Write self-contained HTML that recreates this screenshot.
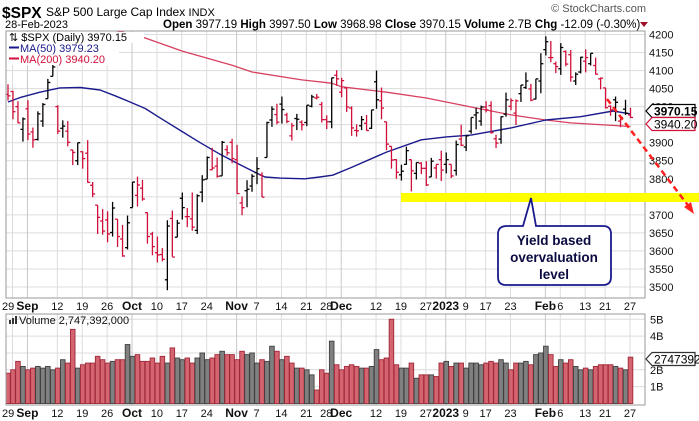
<!DOCTYPE html>
<html><head><meta charset="utf-8">
<style>
html,body{margin:0;padding:0;background:#fff;}
svg{display:block;font-family:"Liberation Sans",sans-serif;}
</style></head>
<body>
<svg id="chart" width="699" height="421" viewBox="0 0 699 421" xmlns="http://www.w3.org/2000/svg">
<defs>
<clipPath id="mainClip"><rect x="6" y="31" width="639" height="267"/></clipPath>
<clipPath id="volClip"><rect x="6" y="314" width="639" height="91"/></clipPath>
</defs>
<rect x="0" y="0" width="699" height="421" fill="#fff"/>
<g id="header">
<text x="2" y="18" font-size="15.5" font-weight="bold">$SPX</text>
<text x="46" y="16" font-size="12">S&amp;P 500 Large Cap Index <tspan font-size="11">INDX</tspan></text>
<text x="5" y="28" font-size="11">28-Feb-2023</text>
<text x="163" y="28" font-size="11.5"><tspan font-weight="bold">Open</tspan> 3977.19  <tspan font-weight="bold">High</tspan> 3997.50  <tspan font-weight="bold">Low</tspan> 3968.98  <tspan font-weight="bold">Close</tspan> 3970.15  <tspan font-weight="bold">Volume</tspan> 2.7B  <tspan font-weight="bold">Chg</tspan> -12.09 (-0.30%)</text>
<polygon points="640,22 648,22 644,27" fill="#a0102a"/>
<text x="646" y="12" font-size="11" fill="#555" text-anchor="end">© StockCharts.com</text>
</g>
<g id="grid"></g>
<g id="mas" clip-path="url(#mainClip)"></g>
<g id="bars" clip-path="url(#mainClip)"></g>
<g id="vol" clip-path="url(#volClip)"></g>
<g id="axes"></g>
<g id="legend">
<rect x="7" y="32" width="137" height="11" fill="#fff"/>
<rect x="7" y="43" width="112" height="22" fill="#fff"/>
<text x="9" y="41" font-size="11">⇅ $SPX (Daily) 3970.15</text>
<line x1="9" y1="47.5" x2="19" y2="47.5" stroke="#1a1a8c" stroke-width="2"/>
<text x="20" y="52" font-size="11" fill="#1a1a8c">MA(50) 3979.23</text>
<line x1="9" y1="58.5" x2="19" y2="58.5" stroke="#d0103a" stroke-width="2"/>
<text x="20" y="63" font-size="11" fill="#d0103a">MA(200) 3940.20</text>
</g>
<g id="annot">
<rect x="401" y="193" width="298" height="9" fill="#ffff00"/>
<line x1="607" y1="99" x2="690" y2="208" stroke="#ff2020" stroke-width="2.5" stroke-dasharray="6,4"/>
<polygon points="694,214 684,207 691,202" fill="#ff2020"/>
<path d="M507,226 L523,226 L531,198 L536,226 L603,226 Q611,226 611,234 L611,277 Q611,285 603,285 L506,285 Q498,285 498,277 L498,234 Q498,226 507,226 Z" fill="#fff" stroke="#1a1a8c" stroke-width="1.8"/>
<text font-size="13.5" font-weight="bold" fill="#0a0a40" text-anchor="middle"><tspan x="554" y="245">Yield based</tspan><tspan x="554" y="262">overvaluation</tspan><tspan x="554" y="279">level</tspan></text>
</g>
<g id="labels"></g>
</svg>
<script>
const dates=["Aug 29","Aug 30","Aug 31","Sep 1","Sep 2","Sep 6","Sep 7","Sep 8","Sep 9","Sep 12","Sep 13","Sep 14","Sep 15","Sep 16","Sep 19","Sep 20","Sep 21","Sep 22","Sep 23","Sep 26","Sep 27","Sep 28","Sep 29","Sep 30","Oct 3","Oct 4","Oct 5","Oct 6","Oct 7","Oct 10","Oct 11","Oct 12","Oct 13","Oct 14","Oct 17","Oct 18","Oct 19","Oct 20","Oct 21","Oct 24","Oct 25","Oct 26","Oct 27","Oct 28","Oct 31","Nov 1","Nov 2","Nov 3","Nov 4","Nov 7","Nov 8","Nov 9","Nov 10","Nov 11","Nov 14","Nov 15","Nov 16","Nov 17","Nov 18","Nov 21","Nov 22","Nov 23","Nov 25","Nov 28","Nov 29","Nov 30","Dec 1","Dec 2","Dec 5","Dec 6","Dec 7","Dec 8","Dec 9","Dec 12","Dec 13","Dec 14","Dec 15","Dec 16","Dec 19","Dec 20","Dec 21","Dec 22","Dec 23","Dec 27","Dec 28","Dec 29","Dec 30","Jan 3","Jan 4","Jan 5","Jan 6","Jan 9","Jan 10","Jan 11","Jan 12","Jan 13","Jan 17","Jan 18","Jan 19","Jan 20","Jan 23","Jan 24","Jan 25","Jan 26","Jan 27","Jan 30","Jan 31","Feb 1","Feb 2","Feb 3","Feb 6","Feb 7","Feb 8","Feb 9","Feb 10","Feb 13","Feb 14","Feb 15","Feb 16","Feb 17","Feb 21","Feb 22","Feb 23","Feb 24","Feb 27","Feb 28"];
const opens=[4034,4042,4000,3937,3994,3930,3909,3960,4022,4084,4000,3940,3932,3880,3850,3875,3871,3782,3727,3683,3686,3651,3688,3633,3609,3720,3754,3774,3706,3647,3595,3590,3520,3690,3638,3746,3695,3689,3657,3763,3799,3825,3835,3808,3881,3901,3853,3733,3767,3780,3817,3810,3859,3963,3978,4007,3977,3919,3967,3957,3956,4001,4024,4006,3964,3958,4087,4040,4052,3996,3934,3947,3954,3940,4069,4016,3958,3890,3853,3811,3840,3853,3815,3843,3829,3805,3830,3853,3840,3840,3823,3910,3888,3932,3977,3960,3999,4003,3911,3910,3979,4001,3982,4036,4053,4049,4021,4071,4158,4136,4119,4105,4153,4144,4071,4096,4126,4119,4114,4077,4052,4001,4019,3960,3993,3977];
const highs=[4062,4044,4015,3970,4018,3942,3987,4010,4077,4119,4004,3962,3960,3880,3900,3876,3907,3791,3727,3716,3710,3736,3688,3672,3698,3791,3806,3797,3707,3653,3640,3608,3685,3712,3686,3762,3719,3762,3757,3810,3862,3886,3859,3905,3893,3911,3894,3751,3796,3813,3860,3818,3958,4001,4008,4028,3983,3955,3980,3962,4004,4033,4035,4013,3976,4080,4101,4080,4052,4001,3951,3974,3977,3991,4100,4053,3958,3890,3854,3839,3889,3853,3845,3846,3849,3858,3840,3878,3873,3840,3906,3950,3920,3970,3997,4003,4015,4015,3922,3973,4039,4023,4020,4060,4095,4063,4077,4148,4195,4182,4125,4176,4156,4157,4095,4138,4159,4148,4136,4081,4052,4004,4028,3972,4019,3997];
const lows=[4017,3965,3954,3903,3907,3886,3906,3944,4022,4084,3924,3914,3890,3838,3838,3828,3789,3749,3647,3645,3624,3640,3611,3584,3604,3720,3723,3739,3620,3588,3568,3571,3491,3584,3638,3687,3666,3656,3647,3735,3799,3824,3803,3808,3864,3843,3759,3699,3721,3764,3785,3749,3859,3944,3951,3953,3954,3906,3935,3934,3946,3998,4020,3956,3938,3940,4058,4026,3985,3919,3917,3935,3933,3938,3994,3965,3879,3828,3800,3795,3839,3765,3798,3813,3780,3805,3801,3794,3815,3802,3809,3890,3877,3925,3937,3947,3984,3925,3885,3897,3972,3990,3949,4013,4049,4015,4020,4037,4142,4123,4093,4088,4112,4069,4060,4092,4095,4114,4089,4048,3995,3975,3960,3943,3977,3968];
const closes=[4030,3986,3955,3966,3924,3908,3980,4006,4067,4110,3932,3946,3901,3873,3900,3856,3790,3758,3693,3655,3647,3719,3640,3586,3678,3791,3783,3744,3640,3612,3589,3577,3669,3583,3677,3720,3695,3666,3753,3797,3859,3830,3807,3901,3872,3856,3759,3720,3771,3807,3828,3749,3956,3993,3957,3992,3959,3947,3965,3950,4004,4027,4026,3964,3958,4080,4077,4072,3999,3941,3933,3964,3934,3991,4019,3996,3896,3852,3818,3821,3878,3822,3845,3829,3783,3849,3840,3824,3853,3808,3895,3893,3919,3970,3983,3999,3991,3928,3899,3972,4019,4017,4016,4060,4071,4018,4077,4119,4180,4136,4111,4164,4118,4082,4090,4137,4136,4148,4090,4079,3997,3991,4012,3970,3982,3970];
const volumes=[1.8,2.0,2.5,2.2,2.0,2.1,2.2,2.1,2.2,2.0,2.1,2.6,2.4,4.4,2.1,2.3,2.4,2.4,2.8,2.6,2.4,2.5,2.6,2.6,3.5,2.8,2.9,2.5,2.5,2.7,2.4,2.8,2.4,3.3,2.7,2.6,2.7,2.4,2.7,3.0,2.6,2.7,2.9,3.1,2.9,2.9,2.6,3.1,2.9,3.0,2.4,2.6,2.5,3.4,3.1,2.6,2.8,2.4,2.1,2.1,2.0,1.7,0.8,2.0,1.8,3.7,2.3,2.0,2.2,2.3,2.2,2.1,2.1,2.2,3.2,2.6,2.7,5.0,2.3,2.1,2.1,2.4,1.5,1.7,1.7,1.7,1.6,2.4,2.5,2.2,2.4,2.4,2.1,2.4,2.4,2.3,2.4,2.5,2.4,2.6,2.4,2.0,2.4,2.4,2.5,2.3,2.9,3.0,3.4,2.9,2.2,2.6,2.4,2.6,2.2,2.0,2.1,2.0,2.2,2.3,2.3,2.3,2.2,2.1,2.0,2.75];
const ma50Days=[0,2.4,6.4,10.4,14.5,18.5,21.5,24.5,27.5,30.5,34.5,38.6,42.6,46.6,49.6,51.6,54.6,59.6,62.6,65.2,68.7,76,83,88,93,101,108,115,121.5,125];
const ma50Vals=[4013,4025,4040,4052,4053,4046,4030,4013,3995,3969,3935,3900,3868,3839,3818,3805,3802,3800,3805,3810,3830,3874,3908,3916,3921,3941,3963,3972,3988,3980];
const ma200Days=[0,20,26,35,45,49,59,65,67,76,84,93,101,108,113,125];
const ma200Vals=[4290,4215,4198,4154,4115,4096,4074,4065,4055,4040,4024,3999,3977,3963,3955,3945];
const priceTicks=[4200,4150,4100,4050,4000,3950,3900,3850,3800,3750,3700,3650,3600,3550,3500];
const volTicks=[1,2,3,4,5];
const volTickLabels=["1B","2B","","4B","5B"];
const dateLabelIdx=[0,3,9,14,19,24,29,34,39,45,49,54,59,63,66,73,78,83,87,91,95,100,107,110,115,119,124];
const dateLabelText=["29","Sep","12","19","26","Oct","10","17","24","Nov","7","14","21","28","Dec","12","19","27","2023","9","17","23","Feb","6","13","21","27"];
const dateLabelBold=[0,1,0,0,0,1,0,0,0,1,0,0,0,0,1,0,0,0,1,0,0,0,1,0,0,0,0];

const NS="http://www.w3.org/2000/svg";
const L=6,R=645,MT=31,MB=298,VT=314,VB=405;
const xAt=i=>8+i*4.98;
const yP=p=>34.5+(4200-p)*0.3607;
const yV=v=>403.5-v*16.85;
function mk(tag,attrs,parent){const e=document.createElementNS(NS,tag);for(const k in attrs)e.setAttribute(k,attrs[k]);parent.appendChild(e);return e;}
const grid=document.getElementById('grid'),axes=document.getElementById('axes'),bars=document.getElementById('bars'),vol=document.getElementById('vol'),mas=document.getElementById('mas'),labels=document.getElementById('labels');

priceTicks.forEach(p=>{const l=mk('line',{x1:L,x2:R,y1:yP(p),y2:yP(p),stroke:'#dcdcdc','stroke-width':1},grid);


const t=mk('text',{x:649,y:yP(p)+4,'font-size':11,fill:'#111'},axes);t.textContent=p;

});
volTicks.forEach((v,k)=>{const l=mk('line',{x1:L,x2:R,y1:yV(v),y2:yV(v),stroke:'#dcdcdc','stroke-width':1},grid);


if(volTickLabels[k]){const t=mk('text',{x:650,y:yV(v)+4,'font-size':11,fill:'#111'},axes);t.textContent=volTickLabels[k];

}});
dateLabelIdx.forEach((idx,k)=>{const gx=xAt(idx)+4.5;
[[MT,MB],[VT,VB]].forEach(([a,b])=>{const l=mk('line',{x1:gx,x2:gx,y1:a,y2:b,stroke:dateLabelBold[k]?'#c8c8c8':'#dcdcdc','stroke-width':1},grid);

});
const first=(k===0);
[310,417].forEach(yy=>{const t=mk('text',{x:first?2:gx,y:yy,'font-size':dateLabelBold[k]?12:11,'font-weight':dateLabelBold[k]?'bold':'normal','text-anchor':first?'start':'middle',fill:'#111'},axes);t.textContent=dateLabelText[k];

});});
[[MT,MB],[VT,VB]].forEach(([a,b])=>{const r=mk('rect',{x:L,y:a,width:R-L,height:b-a,fill:'none',stroke:'#999','stroke-width':1},axes);

});

function maPath(days,vals){return days.map((d,k)=>(k?'L':'M')+xAt(d).toFixed(1)+','+yP(vals[k]).toFixed(1)).join(' ');}
const m200=mk('path',{d:maPath(ma200Days,ma200Vals),fill:'none',stroke:'#d84060','stroke-width':1.3,'stroke-linejoin':'round'},mas);


const m50=mk('path',{d:maPath(ma50Days,ma50Vals),fill:'none',stroke:'#1a1a8c','stroke-width':1.4,'stroke-linejoin':'round'},mas);



closes.forEach((c,i)=>{const down=i>0?c<closes[i-1]:c<opens[i];const col=down?'#d0103a':'#000';const x=xAt(i);
const g=mk('g',{stroke:col,'stroke-width':1.3},bars);


mk('line',{x1:x,x2:x,y1:yP(highs[i]),y2:yP(lows[i])},g);
mk('line',{x1:x-2.5,x2:x,y1:yP(opens[i]),y2:yP(opens[i])},g);
mk('line',{x1:x,x2:x+2.5,y1:yP(c),y2:yP(c)},g);
const vy=yV(volumes[i]);
const r=mk('rect',{x:x-2.3,y:vy,width:4.6,height:403.5-vy,fill:down?'#d46470':'#808080',stroke:down?'#a02838':'#404040','stroke-width':0.9},vol);

});

function tag(y,txt,stroke,bold,name){const g=mk('g',{},labels);


mk('path',{d:`M646,${y} L652,${y-6.5} L695,${y-6.5} L695,${y+6.5} L652,${y+6.5} Z`,fill:'#fff',stroke:stroke,'stroke-width':1.2},g);
const t=mk('text',{x:654,y:y+4.5,'font-size':12,'font-weight':bold?'bold':'normal',fill:'#000'},g);t.textContent=txt;}
tag(111,'3970.15','#000',true,'last-price-label');
tag(124,'3940.20','#d0103a',false,'ma200-value-label');
tag(359,'2747392','#333',false,'last-volume-label');
const vt=mk('text',{x:19,y:324,'font-size':11,fill:'#111'},labels);vt.textContent='Volume 2,747,392,000';


[0,1,2].forEach(k=>{const r=mk('rect',{x:9+k*3,y:316+(2-k)*2,width:2,height:8-(2-k)*2,fill:'#333'},labels);

});
</script>
</body></html>
